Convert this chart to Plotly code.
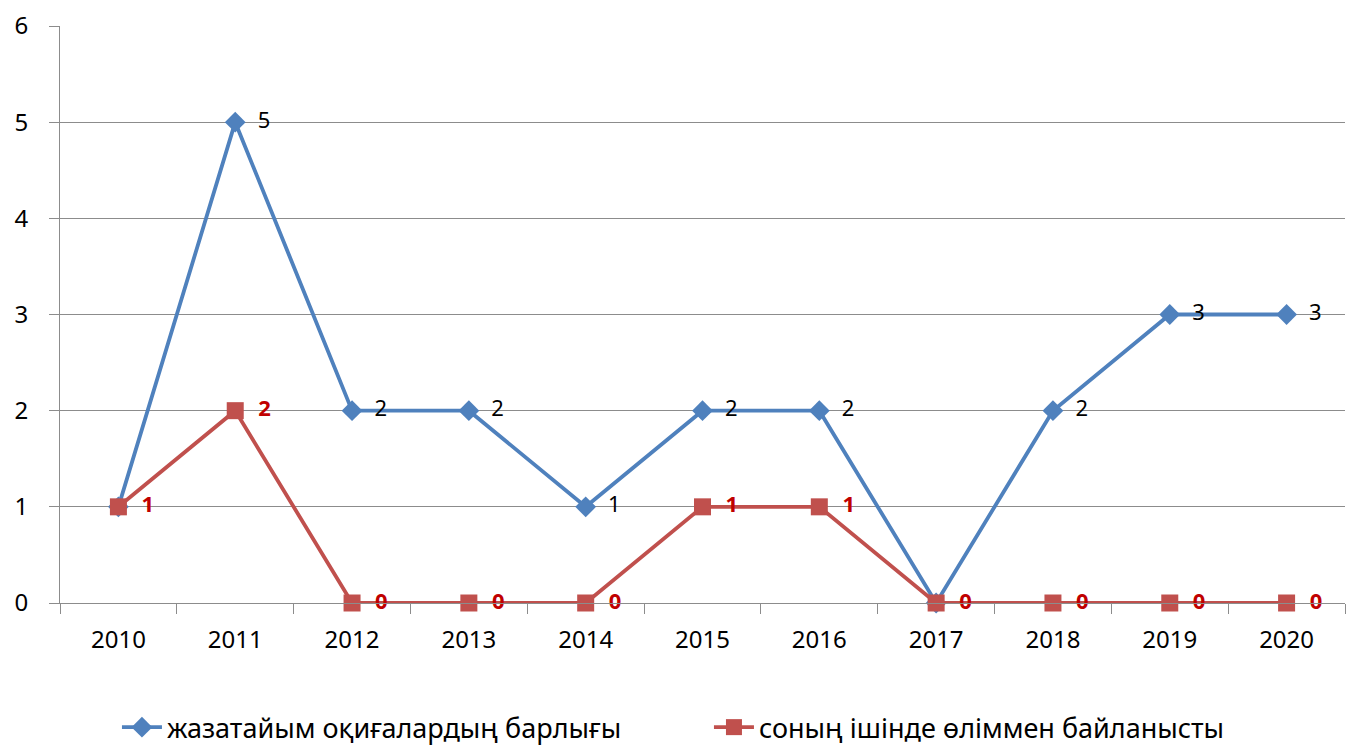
import plotly.graph_objects as go

years = ["2010", "2011", "2012", "2013", "2014", "2015", "2016", "2017", "2018", "2019", "2020"]
total_accidents = [1, 5, 2, 2, 1, 2, 2, 0, 2, 3, 3]
fatal_accidents = [1, 2, 0, 0, 0, 1, 1, 0, 0, 0, 0]
name_total = "жазатайым оқиғалардың барлығы"
name_fatal = "соның ішінде өліммен байланысты"

FONT = "Noto Sans"

# where both series share a point, only the red label is visible in the original
total_labels = ["  " + str(t) if t != f else "" for t, f in zip(total_accidents, fatal_accidents)]
fatal_labels = ["  " + str(v) for v in fatal_accidents]

fig = go.Figure()
fig.add_trace(go.Scatter(
    x=years, y=total_accidents, name=name_total,
    mode="lines+markers+text",
    line=dict(color="#4F81BD", width=3.8),
    marker=dict(symbol="diamond", size=16, color="#4F81BD"),
    text=total_labels, textposition="middle right",
    textfont=dict(family=FONT, size=22, color="#000000"),
    cliponaxis=False,
))
fig.add_trace(go.Scatter(
    x=years, y=fatal_accidents, name=name_fatal,
    mode="lines+markers+text",
    line=dict(color="#C0504D", width=3.8),
    marker=dict(symbol="square", size=17, color="#C0504D"),
    text=fatal_labels, textposition="middle right",
    textfont=dict(family=FONT, size=22, color="#C00000", weight="bold"),
    cliponaxis=False,
))

fig.update_layout(
    width=1349, height=747,
    margin=dict(l=60, r=4, t=26, b=144, autoexpand=False),
    paper_bgcolor="white", plot_bgcolor="white",
    font=dict(family=FONT, size=22, color="#000000"),
    showlegend=True,
    legend=dict(
        orientation="h", xref="container", yref="container",
        x=0.0867, xanchor="left", y=0.026, yanchor="middle",
        font=dict(family=FONT, size=27, color="#000000"),
        itemwidth=40, entrywidth=537,
    ),
    xaxis=dict(
        type="category", range=[-0.5, 10.5], automargin=False,
        showgrid=False, showline=True, linecolor="#8C8C8C", linewidth=1,
        ticks="outside", tickson="boundaries", ticklen=10, tickcolor="#8C8C8C",
        tickfont=dict(family=FONT, size=24), ticklabelstandoff=15,
    ),
    yaxis=dict(
        range=[0, 6], dtick=1, tick0=0, automargin=False,
        showgrid=True, gridcolor="#8C8C8C", gridwidth=1,
        showline=True, linecolor="#8C8C8C", linewidth=1,
        ticks="outside", ticklen=10, tickcolor="#8C8C8C",
        tickfont=dict(family=FONT, size=24), ticklabelstandoff=16,
        zeroline=False,
    ),
)

fig.write_html("out.html", config={"displayModeBar": False},
               post_script="document.body.style.margin='0';")
